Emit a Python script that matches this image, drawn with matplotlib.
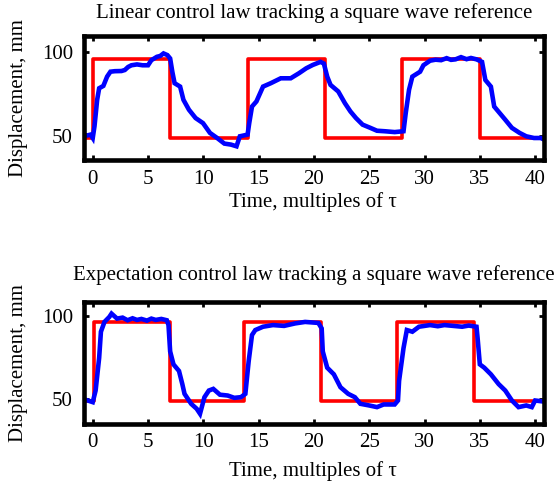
import matplotlib
matplotlib.use("Agg")
import matplotlib.pyplot as plt

plt.rcParams['font.family'] = ['Liberation Serif', 'DejaVu Serif']

# Reference square waves (transition times and levels)
ref1_t = [-0.9, 0.0, 7.0, 14.0, 21.0, 28.0, 35.0, 41.5]
ref1_y = [49.2, 95.6, 49.2, 95.6, 49.2, 95.6, 49.2, 49.2]
ref2_t = [-0.9, 0.15, 6.95, 13.7, 20.6, 27.5, 34.5, 41.5]
ref2_y = [48.6, 96.5, 48.6, 96.5, 48.6, 96.5, 48.6, 48.6]

# Measured displacement, linear control law
lin_t = [-0.9, -0.5, -0.2, 0.0, 0.16, 0.4, 0.58, 0.96, 1.3, 1.6, 2.0, 2.6, 2.9, 3.2, 3.5,
         4.0, 4.5, 5.0, 5.3, 5.8, 6.1, 6.4, 6.75, 7.0, 7.2, 7.4, 7.9, 8.2, 8.7, 9.3,
         9.97, 10.6, 11.25, 11.9, 12.5, 13.0, 13.3, 14.0, 14.15, 14.4, 14.8, 15.4,
         16.1, 17.0, 17.9, 18.65, 19.3, 19.9, 20.6, 20.9, 21.2, 21.5, 22.2, 22.8,
         23.3, 23.8, 24.4, 25.1, 25.7, 26.4, 27.3, 28.1, 28.3, 28.6, 28.9, 29.6,
         29.9, 30.5, 31.0, 31.5, 32.0, 32.4, 32.8, 33.3, 33.8, 34.2, 34.7, 35.2,
         35.5, 36.0, 36.3, 36.8, 37.3, 37.9, 38.6, 39.2, 39.9, 40.5, 41.2]
lin_y = [51, 50.5, 51, 49, 56, 71.6, 78.4, 79.8, 85.3, 88.2, 88.5, 88.6, 89.2, 91, 92,
         92.5, 92, 92, 95, 97, 97.5, 99, 98, 96, 88, 81.4, 79.4, 71.6, 65.7, 60.8,
         57.8, 52, 49, 45.7, 45.1, 44.1, 50, 51, 57.8, 67.6, 70.6, 79.4,
         81.4, 84.3, 84.3, 87.3, 90.2, 92.2, 94, 93, 85.3, 80.4, 76.5, 69.6,
         64.7, 60.8, 56.9, 55, 53.3, 53, 52.5, 53, 63.7, 77.5, 85.3, 88.2,
         92, 94.7, 95.3, 95, 96.2, 95.2, 95.5, 96.8, 95.6, 96.3, 95.5, 94,
         83.3, 79.4, 67.6, 63.7, 59.8, 55, 52, 50, 49, 49, 47]

# Measured displacement, expectation control law
exp_t = [-0.9, 0.0, 0.26, 0.58, 0.74, 1.06, 1.5, 1.7, 2.2, 2.7, 3.15, 3.6, 4.0, 4.4, 4.9,
         5.3, 5.7, 6.2, 6.7, 6.85,
         7.0, 7.3, 7.8, 8.1, 8.3, 8.9, 9.4, 9.7, 10.1, 10.5, 10.9, 11.5, 12.2, 12.8,
         13.4, 13.8, 14.1, 14.4, 14.7, 15.4, 16.3, 17.3, 18.3, 19.2, 20.4, 20.7,
         20.8, 21.2, 21.8, 22.4, 23.1, 23.7, 24.2, 25.0, 25.7, 26.3, 27.3, 27.6,
         27.7, 28.1, 28.4, 28.9, 29.5, 30.5, 31.2, 31.8, 32.6, 33.4, 34.0, 34.7, 34.8,
         35.0, 35.4, 36.0, 36.7, 37.3, 37.9, 38.5, 39.2, 39.7, 40.0, 41.2]
exp_y = [50, 48, 55, 74.7, 90.5, 96.4, 99.4, 101.4, 98.4, 99, 97.4, 98.6, 97.6, 98.2, 97.2,
         98.4, 97.6, 98.2, 97.4, 94.5,
         78.6, 70.8, 66.8, 58.9, 53, 47, 44, 41, 51, 55, 56, 52.5, 52, 50.6,
         51, 53, 72.7, 88.5, 91.5, 93.5, 94.5, 94, 95.5, 96.4, 95.8, 92.5,
         78.6, 68.8, 64.8, 57, 53, 51, 47, 46, 45, 46.6, 46.6, 49,
         60.9, 80.6, 91.5, 90.5, 93.5, 94.5, 93.8, 94.5, 94, 93.5, 94.2, 93.5, 86.6,
         70.8, 68.8, 64.8, 58.9, 55, 49, 45, 46, 45, 49, 48]

titles = ["Linear control law tracking a square wave reference",
          "Expectation control law tracking a square wave reference"]
xticks = [0, 5, 10, 15, 20, 25, 30, 35, 40]
yticks = [50, 100]

W, H = 556, 482
fig = plt.figure(figsize=(W / 100, H / 100), dpi=100)

# axes boxes in pixels: left, right, top, bottom
boxes = [(84, 544.3, 36, 160), (84, 544.3, 301.7, 423.7)]
ylims = [(36, 109.3), (35, 108.6)]
title_y = [13.5, 275]
xlabel_y = [202, 471]
FS = 15

series = [(ref1_t, ref1_y, lin_t, lin_y), (ref2_t, ref2_y, exp_t, exp_y)]
for i, (l, r, t, b) in enumerate(boxes):
    ax = fig.add_axes([l / W, (H - b) / H, (r - l) / W, (b - t) / H])
    rt, ry, mt, my = series[i]
    ax.plot(rt, ry, drawstyle='steps-post', color='#ff0000', lw=2.6)
    ax.plot(mt, my, color='#0000ff', lw=3.3, solid_joinstyle='miter')
    ax.set_xlim(-0.79, 40.83)
    ax.set_ylim(*ylims[i])
    ax.set_xticks(xticks)
    ax.set_yticks(yticks)
    ax.tick_params(direction='in', length=3.5, width=2, top=True, right=True,
                   labelsize=FS)
    ax.tick_params(axis='x', pad=7)
    ax.tick_params(axis='y', pad=8)
    for s in ax.spines.values():
        s.set_linewidth(3.3)
    h = b - t
    ax.text(0.5, (t - title_y[i]) / h + 1, titles[i], transform=ax.transAxes,
            ha='center', va='center', fontsize=FS)
    ax.set_xlabel("Time, multiples of τ", fontsize=FS, va='center')
    ax.xaxis.set_label_coords((313 - l) / (r - l), -(xlabel_y[i] - b) / h)
    ax.set_ylabel("Displacement, mm", fontsize=FS, va='center')
    ax.yaxis.set_label_coords((19 - l) / (r - l), 0.5)

fig.savefig("out.png", dpi=100)
